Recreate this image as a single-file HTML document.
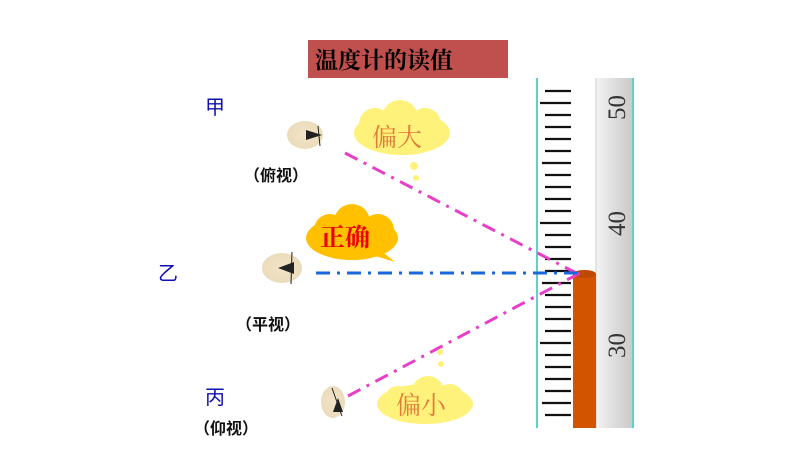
<!DOCTYPE html>
<html><head><meta charset="utf-8"><style>
html,body{margin:0;padding:0;background:#fff;width:800px;height:450px;overflow:hidden}
svg{display:block}
.s{font-family:"Liberation Sans","Noto Sans CJK SC",sans-serif}
.k{font-family:"Liberation Serif","Noto Serif CJK SC",serif}
</style></head><body>
<svg width="800" height="450" viewBox="0 0 800 450" xmlns="http://www.w3.org/2000/svg">
<defs>
<linearGradient id="g" x1="0" x2="1"><stop offset="0" stop-color="#f4f4f4"/><stop offset="0.5" stop-color="#dcdcdc"/><stop offset="1" stop-color="#c8c8c8"/></linearGradient>
<radialGradient id="eye" cx="0.5" cy="0.5" r="0.6"><stop offset="0" stop-color="#f3e6c8"/><stop offset="1" stop-color="#e0cca0" stop-opacity="0.7"/></radialGradient>
</defs>
<rect x="308" y="40" width="200" height="38" fill="#c0504d"/>
<text class="k" x="315" y="68" font-size="23" font-weight="bold" fill="#000">温度计的读值</text>
<rect x="536" y="78" width="60" height="350" fill="#fff"/>
<rect x="596" y="78" width="38" height="350" fill="url(#g)"/>
<line x1="537" y1="78" x2="537" y2="428" stroke="#6cc" stroke-width="2"/>
<line x1="633" y1="78" x2="633" y2="428" stroke="#6cc" stroke-width="2"/>
<line x1="596" y1="78" x2="596" y2="428" stroke="#ccc" stroke-width="1"/>
<g stroke="#111" stroke-width="2.2" id="ticks"></g>
<rect x="573" y="274" width="23" height="154" fill="#d35400"/>
<ellipse cx="584.5" cy="274" rx="11.5" ry="4" fill="#c04800"/>
<g style="font-family:'Liberation Serif',serif" font-size="25" fill="#333">
<text transform="translate(625,120) rotate(-90)">50</text>
<text transform="translate(625,236) rotate(-90)">40</text>
<text transform="translate(625,358) rotate(-90)">30</text>
</g>
<line x1="345" y1="153" x2="580" y2="275" stroke="#e83fc8" stroke-width="3" stroke-dasharray="14,7,3,7"/>
<line x1="348" y1="396" x2="580" y2="273" stroke="#e83fc8" stroke-width="3" stroke-dasharray="14,7,3,7"/>
<line x1="316" y1="273" x2="580" y2="273" stroke="#1a66dd" stroke-width="3" stroke-dasharray="14,7,3,7"/>
<g fill="#fff27a">
<ellipse cx="402" cy="133" rx="48" ry="22"/><circle cx="375" cy="124" r="16"/><circle cx="425" cy="124" r="16"/><circle cx="400" cy="118" r="18"/>
<circle cx="414" cy="166" r="4"/><circle cx="416" cy="178" r="3"/>
<ellipse cx="425" cy="404" rx="48" ry="20"/><circle cx="398" cy="400" r="14"/><circle cx="450" cy="398" r="14"/><circle cx="428" cy="392" r="16"/>
<circle cx="441" cy="364" r="3"/><circle cx="440" cy="352" r="3"/>
</g>
<g fill="#ffc000">
<ellipse cx="352" cy="238" rx="46" ry="22"/><circle cx="330" cy="230" r="16"/><circle cx="378" cy="230" r="16"/><circle cx="352" cy="222" r="18"/><path d="M380 250 L395 262 L372 255Z"/>
</g>
<text class="k" x="372" y="146" font-size="25" fill="#e07b39">偏大</text>
<text class="k" x="320" y="246" font-size="25" fill="#e00" font-weight="bold">正确</text>
<text class="k" x="396" y="414" font-size="25" fill="#e07b39">偏小</text>
<g>
<ellipse cx="305" cy="135" rx="18" ry="14" fill="url(#eye)"/><path d="M306 130 L322 135 L306 140Z" fill="#222"/><line x1="318" y1="126" x2="320" y2="146" stroke="#222"/>
<ellipse cx="282" cy="268" rx="20" ry="15" fill="url(#eye)"/><path d="M278 268 L294 262 L294 274Z" fill="#222"/><line x1="292" y1="252" x2="291" y2="284" stroke="#222"/>
<ellipse cx="333" cy="402" rx="12" ry="16" fill="url(#eye)"/><path d="M333 412 L338 398 L343 412Z" fill="#222"/><line x1="332" y1="388" x2="342" y2="416" stroke="#222"/>
</g>
<g class="s" font-size="20" fill="#1010b0">
<text x="205" y="114">甲</text><text x="158" y="280">乙</text><text x="205" y="404">丙</text>
</g>
<g class="s" font-size="16" font-weight="bold" fill="#111">
<text x="244" y="181">（俯视）</text><text x="236" y="330">（平视）</text><text x="194" y="434">（仰视）</text>
</g>
</svg>
<script>
var g=document.getElementById('ticks'),s='';
for(var i=-3;i<30;i++){var y=103+i*12;if(y<80||y>426)continue;var d=((i%10)+10)%10;var x1=d==0?540:(d==5?542:545);
s+='<line x1="'+x1+'" y1="'+y+'" x2="571" y2="'+y+'"/>';}
g.innerHTML=s;
</script>
</body></html>
